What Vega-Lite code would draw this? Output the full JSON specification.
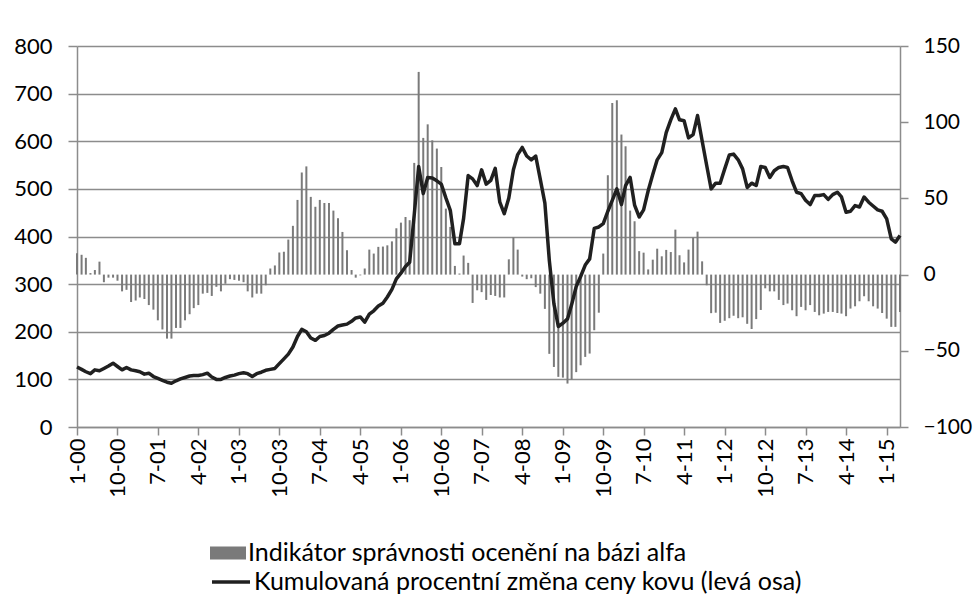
{
"$schema": "https://vega.github.io/schema/vega-lite/v6.json",
"width": 823, "height": 381,
"autosize": "none",
"padding": {"left": 77, "top": 46, "right": 75, "bottom": 181},
"background": "white",
"config": {"view": {"stroke": null}, "font": "Lato",
  "axis": {"labelFont": "Lato", "labelColor": "#000", "domainColor": "#8c8c8c", "domainWidth": 1.5, "tickColor": "#8c8c8c", "tickWidth": 1.5, "title": null}},
"data": {"values": [
{"month":"2000-01","price":126,"alpha":14},{"month":"2000-02","price":121,"alpha":13},{"month":"2000-03","price":116,"alpha":11},{"month":"2000-04","price":112,"alpha":1},{"month":"2000-05","price":120,"alpha":3},{"month":"2000-06","price":118,"alpha":8.5},{"month":"2000-07","price":123,"alpha":-5},{"month":"2000-08","price":128,"alpha":-2},{"month":"2000-09","price":134,"alpha":-2},{"month":"2000-10","price":127,"alpha":-4},{"month":"2000-11","price":120,"alpha":-11},{"month":"2000-12","price":125,"alpha":-10},
{"month":"2001-01","price":120,"alpha":-18},{"month":"2001-02","price":118,"alpha":-17},{"month":"2001-03","price":116,"alpha":-15},{"month":"2001-04","price":111,"alpha":-16},{"month":"2001-05","price":113,"alpha":-20},{"month":"2001-06","price":106,"alpha":-23},{"month":"2001-07","price":102,"alpha":-30},{"month":"2001-08","price":98,"alpha":-36},{"month":"2001-09","price":94,"alpha":-42},{"month":"2001-10","price":92,"alpha":-42},{"month":"2001-11","price":97,"alpha":-35},{"month":"2001-12","price":101,"alpha":-35},
{"month":"2002-01","price":104,"alpha":-30},{"month":"2002-02","price":107,"alpha":-26},{"month":"2002-03","price":108,"alpha":-22},{"month":"2002-04","price":108,"alpha":-20},{"month":"2002-05","price":110,"alpha":-12.5},{"month":"2002-06","price":113,"alpha":-12},{"month":"2002-07","price":105,"alpha":-14},{"month":"2002-08","price":100,"alpha":-8},{"month":"2002-09","price":100,"alpha":-11},{"month":"2002-10","price":104,"alpha":-6},{"month":"2002-11","price":107,"alpha":-3},{"month":"2002-12","price":109,"alpha":-3.5},
{"month":"2003-01","price":112,"alpha":-4},{"month":"2003-02","price":114,"alpha":-5},{"month":"2003-03","price":112,"alpha":-11},{"month":"2003-04","price":106,"alpha":-15},{"month":"2003-05","price":112,"alpha":-12.5},{"month":"2003-06","price":115,"alpha":-12.5},{"month":"2003-07","price":119,"alpha":-7},{"month":"2003-08","price":121,"alpha":4},{"month":"2003-09","price":123,"alpha":6},{"month":"2003-10","price":133,"alpha":14.5},{"month":"2003-11","price":143,"alpha":15},{"month":"2003-12","price":153,"alpha":23},
{"month":"2004-01","price":168,"alpha":32},{"month":"2004-02","price":190,"alpha":49},{"month":"2004-03","price":205,"alpha":67},{"month":"2004-04","price":200,"alpha":71},{"month":"2004-05","price":187,"alpha":51},{"month":"2004-06","price":182,"alpha":44.5},{"month":"2004-07","price":190,"alpha":49},{"month":"2004-08","price":192,"alpha":47},{"month":"2004-09","price":197,"alpha":47},{"month":"2004-10","price":205,"alpha":42},{"month":"2004-11","price":212,"alpha":37},{"month":"2004-12","price":214,"alpha":28},
{"month":"2005-01","price":216,"alpha":16},{"month":"2005-02","price":222,"alpha":3},{"month":"2005-03","price":229,"alpha":-2},{"month":"2005-04","price":231,"alpha":-0.5},{"month":"2005-05","price":220,"alpha":4},{"month":"2005-06","price":237,"alpha":16.4},{"month":"2005-07","price":244,"alpha":13.8},{"month":"2005-08","price":254,"alpha":18.2},{"month":"2005-09","price":260,"alpha":18.4},{"month":"2005-10","price":273,"alpha":19.2},{"month":"2005-11","price":289,"alpha":21.8},{"month":"2005-12","price":311,"alpha":30.4},
{"month":"2006-01","price":323,"alpha":34.1},{"month":"2006-02","price":337,"alpha":37.8},{"month":"2006-03","price":346,"alpha":35.7},{"month":"2006-04","price":446,"alpha":73.3},{"month":"2006-05","price":547,"alpha":133},{"month":"2006-06","price":490,"alpha":89.7},{"month":"2006-07","price":524,"alpha":98.6},{"month":"2006-08","price":523,"alpha":88.1},{"month":"2006-09","price":517,"alpha":82.7},{"month":"2006-10","price":510,"alpha":70.6},{"month":"2006-11","price":481,"alpha":43.3},{"month":"2006-12","price":455,"alpha":31.3},
{"month":"2007-01","price":385,"alpha":5.7},{"month":"2007-02","price":385,"alpha":0.7},{"month":"2007-03","price":438,"alpha":12.5},{"month":"2007-04","price":528,"alpha":7.7},{"month":"2007-05","price":521,"alpha":-18.6},{"month":"2007-06","price":507,"alpha":-10.3},{"month":"2007-07","price":540,"alpha":-11.5},{"month":"2007-08","price":510,"alpha":-16.6},{"month":"2007-09","price":518,"alpha":-13.4},{"month":"2007-10","price":543,"alpha":-14},{"month":"2007-11","price":472,"alpha":-15},{"month":"2007-12","price":448,"alpha":-15},
{"month":"2008-01","price":481,"alpha":10},{"month":"2008-02","price":540,"alpha":24.5},{"month":"2008-03","price":572,"alpha":16.4},{"month":"2008-04","price":587,"alpha":-1.3},{"month":"2008-05","price":569,"alpha":-3},{"month":"2008-06","price":561,"alpha":-2.4},{"month":"2008-07","price":569,"alpha":-8.2},{"month":"2008-08","price":520,"alpha":-12.5},{"month":"2008-09","price":470,"alpha":-22.5},{"month":"2008-10","price":350,"alpha":-52},{"month":"2008-11","price":259,"alpha":-60.6},{"month":"2008-12","price":211,"alpha":-67.1},
{"month":"2009-01","price":218,"alpha":-67.6},{"month":"2009-02","price":227,"alpha":-71.5},{"month":"2009-03","price":257,"alpha":-68.9},{"month":"2009-04","price":295,"alpha":-64},{"month":"2009-05","price":316,"alpha":-59.5},{"month":"2009-06","price":340,"alpha":-54},{"month":"2009-07","price":353,"alpha":-51.8},{"month":"2009-08","price":417,"alpha":-36.5},{"month":"2009-09","price":420,"alpha":-25},{"month":"2009-10","price":427,"alpha":13.8},{"month":"2009-11","price":453,"alpha":65.2},{"month":"2009-12","price":476,"alpha":112.6},
{"month":"2010-01","price":500,"alpha":114.4},{"month":"2010-02","price":467,"alpha":91.9},{"month":"2010-03","price":507,"alpha":84.2},{"month":"2010-04","price":524,"alpha":42},{"month":"2010-05","price":466,"alpha":35},{"month":"2010-06","price":441,"alpha":15.4},{"month":"2010-07","price":456,"alpha":14.4},{"month":"2010-08","price":496,"alpha":3.4},{"month":"2010-09","price":530,"alpha":9.8},{"month":"2010-10","price":561,"alpha":17},{"month":"2010-11","price":576,"alpha":12},{"month":"2010-12","price":618,"alpha":16.2},
{"month":"2011-01","price":645,"alpha":14.8},{"month":"2011-02","price":668,"alpha":29.5},{"month":"2011-03","price":645,"alpha":12.7},{"month":"2011-04","price":643,"alpha":8},{"month":"2011-05","price":607,"alpha":16.4},{"month":"2011-06","price":614,"alpha":24.3},{"month":"2011-07","price":654,"alpha":28.2},{"month":"2011-08","price":601,"alpha":8.7},{"month":"2011-09","price":549,"alpha":-7},{"month":"2011-10","price":500,"alpha":-25.3},{"month":"2011-11","price":512,"alpha":-25},{"month":"2011-12","price":512,"alpha":-31.7},
{"month":"2012-01","price":542,"alpha":-30.3},{"month":"2012-02","price":571,"alpha":-28.6},{"month":"2012-03","price":573,"alpha":-27},{"month":"2012-04","price":561,"alpha":-28.6},{"month":"2012-05","price":542,"alpha":-28},{"month":"2012-06","price":503,"alpha":-32.3},{"month":"2012-07","price":512,"alpha":-35.7},{"month":"2012-08","price":507,"alpha":-29.2},{"month":"2012-09","price":547,"alpha":-23.2},{"month":"2012-10","price":545,"alpha":-9},{"month":"2012-11","price":524,"alpha":-11},{"month":"2012-12","price":538,"alpha":-11},
{"month":"2013-01","price":545,"alpha":-16.6},{"month":"2013-02","price":547,"alpha":-20},{"month":"2013-03","price":545,"alpha":-19},{"month":"2013-04","price":517,"alpha":-23.4},{"month":"2013-05","price":493,"alpha":-27.3},{"month":"2013-06","price":490,"alpha":-21.2},{"month":"2013-07","price":476,"alpha":-23.4},{"month":"2013-08","price":467,"alpha":-20},{"month":"2013-09","price":486,"alpha":-24.5},{"month":"2013-10","price":486,"alpha":-26.7},{"month":"2013-11","price":488,"alpha":-25.6},{"month":"2013-12","price":478,"alpha":-24.5},
{"month":"2014-01","price":488,"alpha":-24.5},{"month":"2014-02","price":493,"alpha":-25.2},{"month":"2014-03","price":483,"alpha":-25.6},{"month":"2014-04","price":451,"alpha":-27.3},{"month":"2014-05","price":453,"alpha":-22.3},{"month":"2014-06","price":465,"alpha":-20.8},{"month":"2014-07","price":462,"alpha":-17.5},{"month":"2014-08","price":483,"alpha":-14.2},{"month":"2014-09","price":472,"alpha":-17.5},{"month":"2014-10","price":464,"alpha":-20.8},{"month":"2014-11","price":456,"alpha":-22.3},{"month":"2014-12","price":453,"alpha":-25.2},
{"month":"2015-01","price":437,"alpha":-28.9},{"month":"2015-02","price":395,"alpha":-34.3},{"month":"2015-03","price":388,"alpha":-34.3},{"month":"2015-04","price":402,"alpha":-24.5}
]},
"layer": [
{"mark": {"type": "bar", "size": 2},
 "encoding": {
  "x": {"field": "month", "type": "temporal",
    "scale": {"type": "utc", "nice": false, "padding": 0, "domain": [{"year": 2000, "month": 1, "date": 1, "utc": true}, {"year": 2015, "month": 4, "date": 1, "utc": true}]},
    "axis": {"values": [
        {"year":2000,"month":1,"utc":true},{"year":2000,"month":10,"utc":true},{"year":2001,"month":7,"utc":true},{"year":2002,"month":4,"utc":true},{"year":2003,"month":1,"utc":true},{"year":2003,"month":10,"utc":true},{"year":2004,"month":7,"utc":true},{"year":2005,"month":4,"utc":true},{"year":2006,"month":1,"utc":true},{"year":2006,"month":10,"utc":true},{"year":2007,"month":7,"utc":true},{"year":2008,"month":4,"utc":true},{"year":2009,"month":1,"utc":true},{"year":2009,"month":10,"utc":true},{"year":2010,"month":7,"utc":true},{"year":2011,"month":4,"utc":true},{"year":2012,"month":1,"utc":true},{"year":2012,"month":10,"utc":true},{"year":2013,"month":7,"utc":true},{"year":2014,"month":4,"utc":true},{"year":2015,"month":1,"utc":true}],
      "labelExpr": "utcFormat(datum.value, '%-m-%y')",
      "labelAngle": 270, "labelFontSize": 22, "labelPadding": 3, "tickSize": 8, "grid": false,
      "labelOverlap": false, "labelBound": false, "labelFlush": false}},
  "y": {"field": "alpha", "type": "quantitative", "scale": {"domain": [-100, 150]},
    "axis": {"orient": "right", "values": [-100,-50,0,50,100,150], "grid": false, "tickSize": 8, "labelPadding": 15, "labelFontSize": 21}},
  "fill": {"datum": "Indikátor správnosti ocenění na bázi alfa", "scale": {"range": ["#7a7a7a"]},
    "legend": {"orient": "none", "legendX": 133, "legendY": 489, "title": null, "symbolType": "M-1,-0.36H1V0.36H-1Z", "symbolSize": 1296, "symbolStrokeWidth": 0, "labelFontSize": 25, "labelFont": "Lato", "labelColor": "#000", "labelLimit": 900, "labelOffset": 2}}
 }},
{"mark": {"type": "line", "strokeWidth": 3.5, "strokeJoin": "round"},
 "encoding": {
  "x": {"field": "month", "type": "temporal"},
  "y": {"field": "price", "type": "quantitative", "scale": {"domain": [0, 800]},
    "axis": {"orient": "left", "values": [0,100,200,300,400,500,600,700,800], "grid": true, "gridColor": "#8c8c8c", "gridWidth": 1.5, "tickSize": 9, "labelPadding": 16, "labelFontSize": 22}},
  "stroke": {"datum": "Kumulovaná procentní změna ceny kovu (levá osa)", "scale": {"range": ["#202020"]},
    "legend": {"orient": "none", "legendX": 133, "legendY": 515, "title": null, "symbolType": "stroke", "symbolSize": 1444, "symbolStrokeWidth": 3.5, "labelFontSize": 25, "labelFont": "Lato", "labelColor": "#000", "labelLimit": 900, "labelOffset": 2}}
 }}
],
"resolve": {"scale": {"y": "independent", "fill": "independent", "stroke": "independent"}}
}
